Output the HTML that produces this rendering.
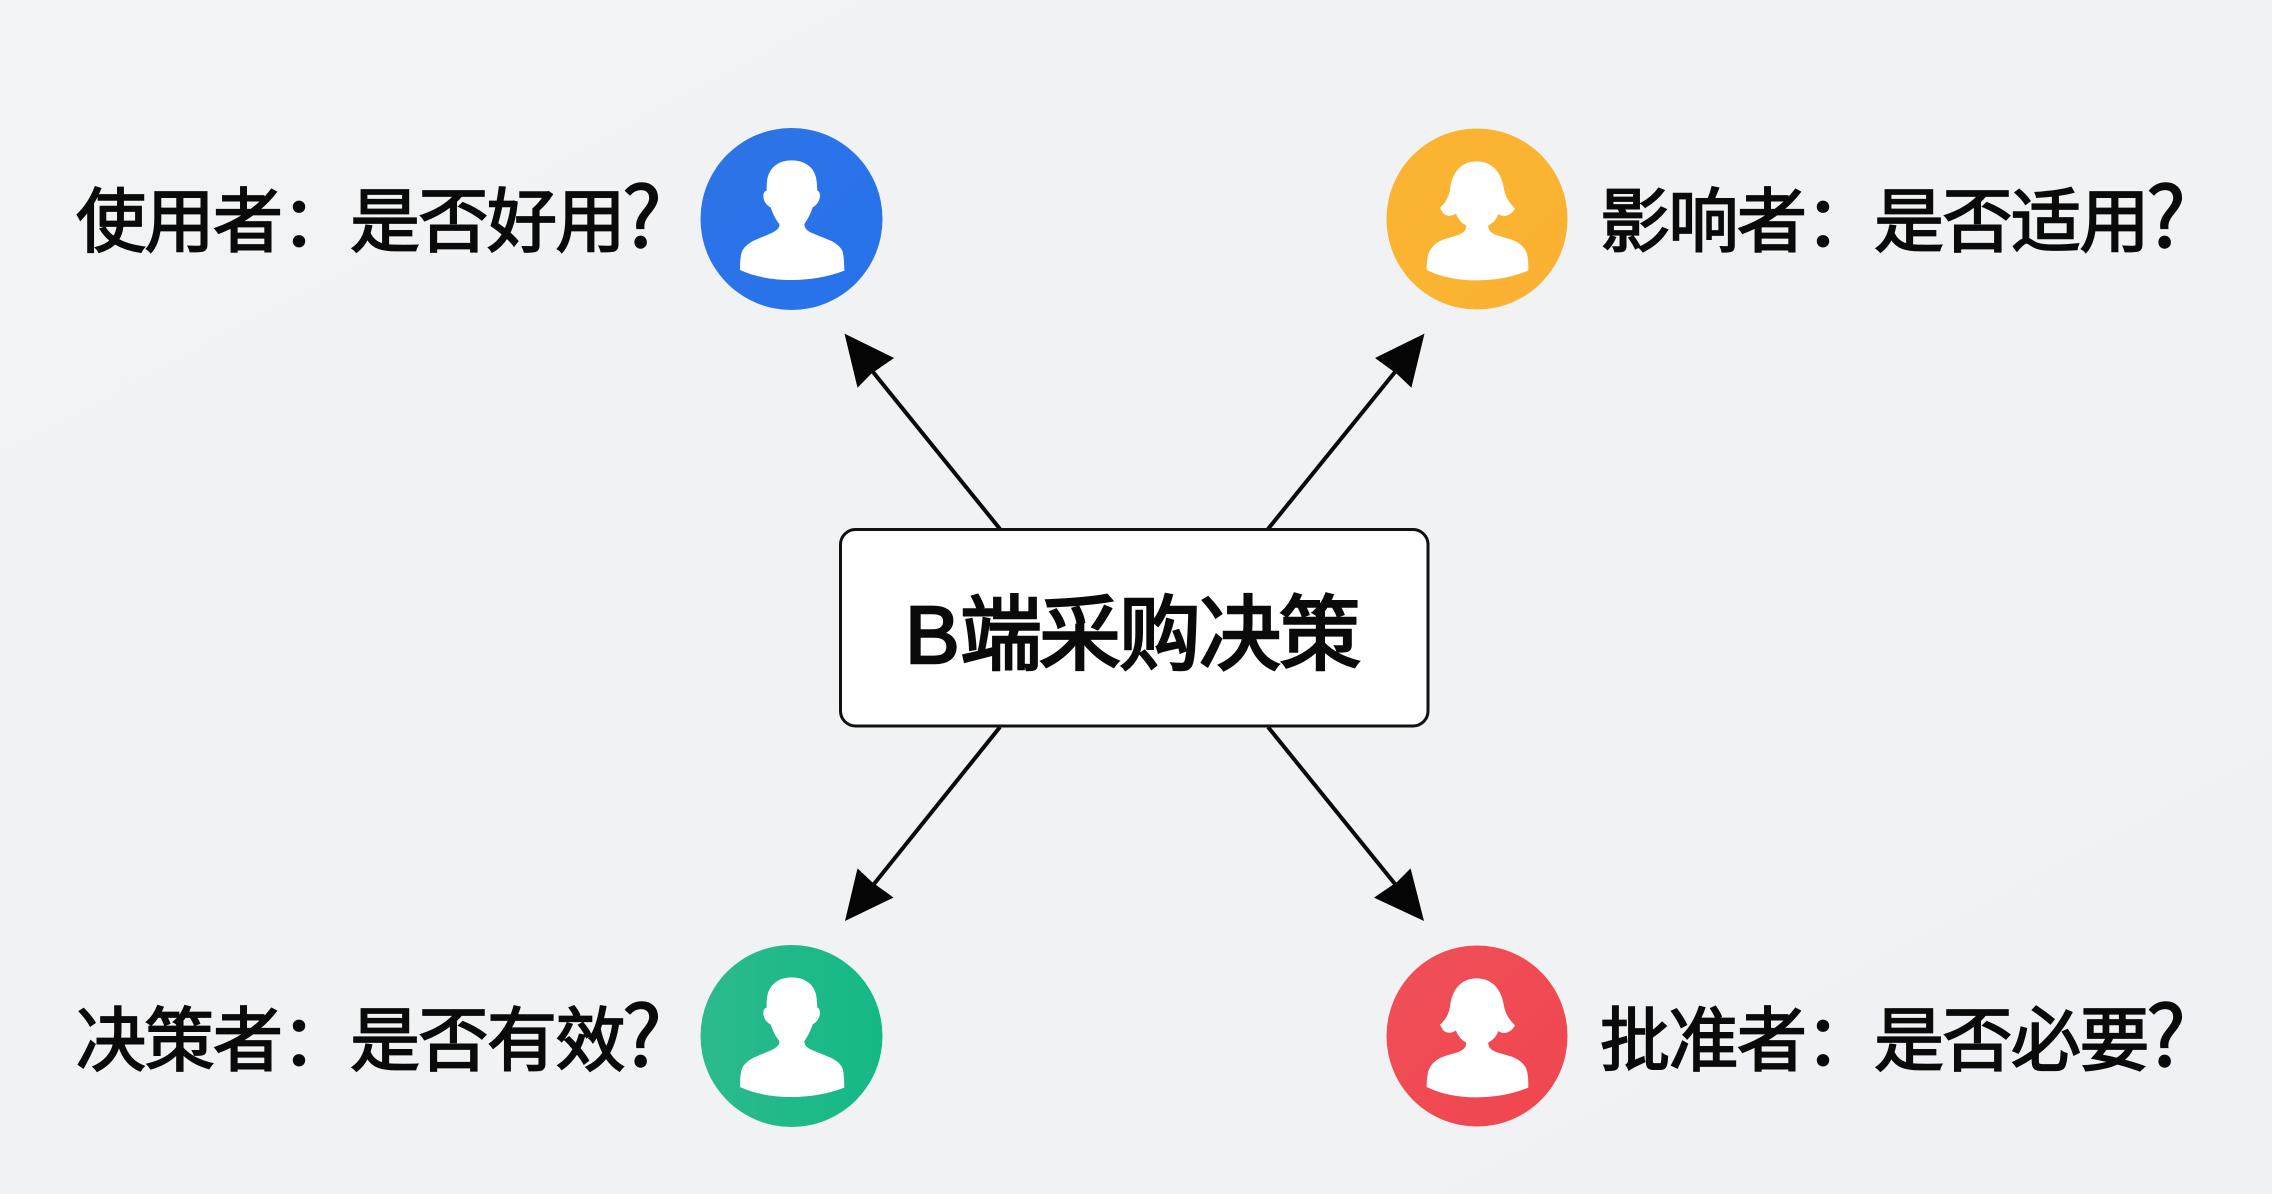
<!DOCTYPE html>
<html><head><meta charset="utf-8"><style>
html,body{margin:0;padding:0;width:2272px;height:1194px;overflow:hidden;background:#f0f2f4}
svg{display:block}
text{font-family:"Liberation Sans","Noto Sans CJK SC",sans-serif;fill:#0a0a0a;stroke:#0a0a0a;stroke-width:1.8px}
.l{font-size:70px;letter-spacing:-1.5px;font-family:"Noto Sans CJK SC","Liberation Sans",sans-serif}
.q{font-size:84px;letter-spacing:0;stroke-width:1.4px}
</style></head><body>
<svg width="2272" height="1194" viewBox="0 0 2272 1194" xmlns="http://www.w3.org/2000/svg">
<defs>
<linearGradient id="bg" x1="0" y1="0" x2="1" y2="1"><stop offset="0" stop-color="#f1f3f4"/><stop offset="1" stop-color="#eff1f4"/></linearGradient>
<linearGradient id="gb" x1="0" y1="0" x2="1" y2="1"><stop offset="0" stop-color="#2e74e5"/><stop offset="1" stop-color="#2672ec"/></linearGradient>
<linearGradient id="go" x1="0" y1="0" x2="1" y2="1"><stop offset="0" stop-color="#fbb431"/><stop offset="1" stop-color="#fbb232"/></linearGradient>
<linearGradient id="gg" x1="0" y1="0" x2="1" y2="0"><stop offset="0" stop-color="#2cb98e"/><stop offset="1" stop-color="#14b986"/></linearGradient>
<linearGradient id="gr" x1="0" y1="0" x2="1" y2="1"><stop offset="0" stop-color="#ef5058"/><stop offset="1" stop-color="#f1454f"/></linearGradient>
<path id="m" d="M240 510C240 490 241 470 245 457C252 438 272 425 290 418L335 399C350 392 360 383 358 372C345 355 338 340 332 322C318 316 309 300 310 285C311 277 315 273 320 272C320 255 320 245 323 232C332 198 360 181 395 181C430 181 460 198 468 232C471 245 471 258 472 272C477 273 480 280 480 288C479 303 470 316 458 322C452 340 445 355 433 372C433 385 442 393 456 399L510 421C530 430 545 443 549 458C552 475 553 495 553 512C500 532 450 540 395 540C340 540 290 532 240 510Z"/>
<path id="f" d="M200 510C200 495 201 480 204 466C210 442 230 425 255 417L295 405C312 398 320 390 318 376C303 368 293 355 288 340C275 350 258 350 248 338L240 323C258 308 268 288 271 262C278 215 305 184 350 184C395 184 423 215 431 262C435 288 447 308 465 325C455 345 432 355 415 342C410 357 400 369 385 376C384 390 392 398 408 405L455 419C480 428 498 445 502 466C505 480 505 497 505 512C455 532 405 541 350 541C295 541 245 532 200 510Z"/>
</defs>
<rect width="2272" height="1194" fill="url(#bg)"/>

<!-- connectors -->
<g stroke="#0a0a0a" stroke-width="4" fill="none">
<line x1="1000" y1="529" x2="873" y2="372"/>
<line x1="1268" y1="529" x2="1395" y2="372"/>
<line x1="1000" y1="727" x2="874" y2="884"/>
<line x1="1268" y1="727" x2="1395" y2="884"/>
</g>
<g fill="#050505">
<polygon points="844.5,333.6 894,358 871,374 857.5,387.7"/>
<polygon points="1424.5,333.6 1375,358 1397,374 1411.4,387.7"/>
<polygon points="845,921 857.5,868.4 872,882 893.5,897.6"/>
<polygon points="1424,921 1410.6,868.4 1397,882 1374,897.6"/>
</g>

<!-- center box -->
<rect x="840.5" y="529.5" width="587.5" height="196.5" rx="15" fill="#fff" stroke="#111" stroke-width="3"/>
<text font-size="82" y="663" style="stroke-width:2.6px"><tspan x="905">B</tspan><tspan x="960">端</tspan><tspan x="1039">采</tspan><tspan x="1119">购</tspan><tspan x="1199">决</tspan><tspan x="1279">策</tspan></text>

<!-- circles -->
<circle cx="791.5" cy="219" r="91" fill="url(#gb)"/>
<circle cx="1477" cy="219" r="90.5" fill="url(#go)"/>
<circle cx="791.5" cy="1036" r="91" fill="url(#gg)"/>
<circle cx="1477" cy="1036" r="90.5" fill="url(#gr)"/>

<!-- icons -->
<g fill="#fff">
<use href="#m" transform="translate(660 100) scale(.3333)"/>
<use href="#m" transform="translate(660 917) scale(.3333)"/>
<use href="#f" transform="translate(1360 100) scale(.3333)"/>
<use href="#f" transform="translate(1360 917) scale(.3333)"/>
</g>

<!-- labels -->
<text class="l" x="76" y="246">使用者：是否好用<tspan class="q" x="622" y="247">?</tspan></text>
<text class="l" x="1600" y="246">影响者：是否适用<tspan class="q" x="2146" y="247">?</tspan></text>
<text class="l" x="76" y="1065">决策者：是否有效<tspan class="q" x="622" y="1066">?</tspan></text>
<text class="l" x="1600" y="1065">批准者：是否必要<tspan class="q" x="2146" y="1066">?</tspan></text>
</svg>
</body></html>
